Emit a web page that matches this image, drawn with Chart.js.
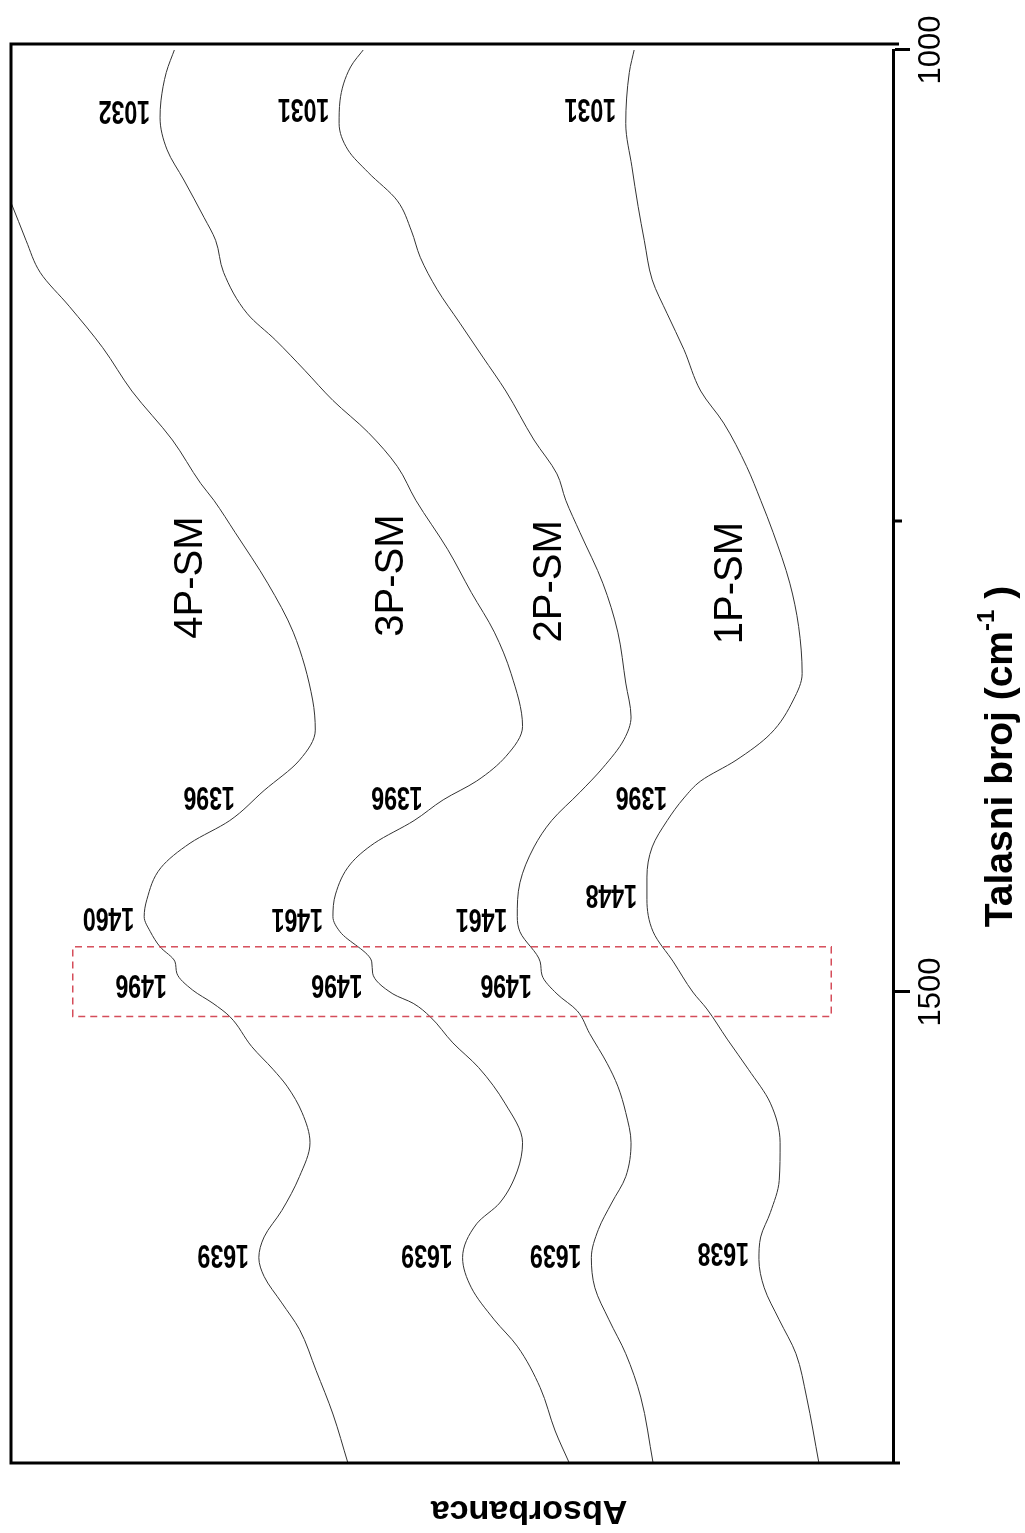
<!DOCTYPE html>
<html>
<head>
<meta charset="utf-8">
<title>FTIR spektri</title>
<script src="https://cdn.jsdelivr.net/npm/chart.js@4.4.1/dist/chart.umd.min.js"></script>
<style>
html, body { margin: 0; padding: 0; background: #fff; overflow: hidden; }
/* the spectrum is drawn upright and then turned a quarter turn, as in the figure */
#wrap { position: absolute; left: 0; top: 0; width: 1533px; height: 1025px;
        transform-origin: 0 0; transform: translateY(1533px) rotate(-90deg); }
</style>
</head>
<body>
<div id="wrap"><canvas id="spectra" width="1533" height="1025"></canvas></div>
<script>
// wavenumber (cm-1) and absorbance (a.u.)
const wn4P = [999, 1036, 1069, 1081, 1101, 1118, 1136, 1158, 1181, 1207, 1230, 1239, 1256, 1283, 1309, 1345, 1361, 1377, 1393, 1409, 1421, 1434, 1451, 1460, 1468, 1476, 1484, 1490, 1499, 1506, 1513, 1529, 1541, 1550, 1564, 1580, 1598, 1616, 1630, 1641, 1651, 1665, 1679, 1701, 1724, 1750];
const abs4P = [1.024, 1.041, 1.012, 1.000, 0.983, 0.967, 0.934, 0.896, 0.863, 0.817, 0.785, 0.770, 0.746, 0.709, 0.680, 0.658, 0.655, 0.673, 0.713, 0.752, 0.797, 0.830, 0.846, 0.849, 0.842, 0.831, 0.814, 0.812, 0.794, 0.771, 0.752, 0.727, 0.703, 0.687, 0.670, 0.661, 0.673, 0.693, 0.713, 0.719, 0.713, 0.693, 0.673, 0.654, 0.635, 0.618];

const wn3P = [999, 1012, 1027, 1036, 1053, 1069, 1089, 1101, 1118, 1140, 1154, 1170, 1186, 1203, 1221, 1239, 1265, 1288, 1309, 1331, 1359, 1375, 1388, 1398, 1409, 1421, 1432, 1448, 1460, 1468, 1484, 1490, 1501, 1506, 1513, 1527, 1540, 1559, 1580, 1595, 1612, 1623, 1641, 1657, 1674, 1688, 1710, 1733, 1750];
const abs3P = [0.814, 0.824, 0.830, 0.831, 0.823, 0.804, 0.781, 0.768, 0.759, 0.732, 0.700, 0.667, 0.635, 0.595, 0.562, 0.541, 0.505, 0.478, 0.452, 0.433, 0.420, 0.439, 0.472, 0.510, 0.543, 0.588, 0.615, 0.632, 0.635, 0.627, 0.591, 0.590, 0.567, 0.544, 0.525, 0.499, 0.470, 0.440, 0.420, 0.426, 0.446, 0.472, 0.488, 0.478, 0.452, 0.426, 0.400, 0.383, 0.367];

const wn2P = [999, 1009, 1027, 1039, 1053, 1065, 1080, 1096, 1110, 1127, 1145, 1163, 1181, 1207, 1225, 1239, 1256, 1283, 1309, 1336, 1354, 1366, 1381, 1394, 1409, 1423, 1442, 1460, 1468, 1484, 1491, 1501, 1510, 1522, 1538, 1550, 1564, 1580, 1598, 1612, 1626, 1641, 1657, 1674, 1692, 1715, 1750];
const abs2P = [0.599, 0.615, 0.627, 0.628, 0.618, 0.595, 0.562, 0.546, 0.536, 0.517, 0.491, 0.465, 0.439, 0.407, 0.381, 0.371, 0.355, 0.329, 0.312, 0.303, 0.297, 0.305, 0.329, 0.355, 0.387, 0.407, 0.423, 0.426, 0.423, 0.400, 0.398, 0.381, 0.358, 0.344, 0.324, 0.312, 0.303, 0.297, 0.303, 0.319, 0.334, 0.342, 0.338, 0.322, 0.303, 0.286, 0.272];

const wn1P = [999, 1012, 1039, 1062, 1083, 1101, 1122, 1140, 1159, 1181, 1198, 1221, 1239, 1256, 1283, 1306, 1331, 1345, 1363, 1377, 1388, 1397, 1409, 1423, 1439, 1451, 1468, 1484, 1500, 1509, 1525, 1541, 1559, 1580, 1600, 1617, 1630, 1642, 1657, 1674, 1692, 1715, 1750];
const abs1P = [0.293, 0.299, 0.303, 0.296, 0.289, 0.282, 0.273, 0.256, 0.237, 0.218, 0.192, 0.166, 0.150, 0.136, 0.117, 0.107, 0.103, 0.113, 0.139, 0.178, 0.218, 0.237, 0.256, 0.273, 0.279, 0.279, 0.272, 0.249, 0.227, 0.211, 0.188, 0.164, 0.139, 0.128, 0.129, 0.139, 0.150, 0.152, 0.146, 0.129, 0.110, 0.098, 0.084];

const sampleNames = ['4P-SM', '3P-SM', '2P-SM', '1P-SM'];
const sampleLabelWn = [1280, 1279, 1282, 1283];
const sampleLabelAbs = [0.796, 0.568, 0.389, 0.184];

// marked bands for each sample
const peaks4P = [1396, 1460, 1496, 1639];
const peaks3P = [1032, 1396, 1461, 1496, 1639];
const peaks2P = [1031, 1461, 1496, 1639];
const peaks1P = [1031, 1396, 1448, 1638];

const xTicks = [1000, 1250, 1500];
const xTickLabels = ['1000', '', '1500'];
const boxWn = [1476, 1513];
const boxAbs = [0.07, 0.93];

const FONT = '"Liberation Sans", Arial, sans-serif';

const curves = [
    { name: sampleNames[0], wn: wn4P, abs: abs4P, peaks: peaks4P },
    { name: sampleNames[1], wn: wn3P, abs: abs3P, peaks: peaks3P },
    { name: sampleNames[2], wn: wn2P, abs: abs2P, peaks: peaks2P },
    { name: sampleNames[3], wn: wn1P, abs: abs1P, peaks: peaks1P }
];

function absAt(c, w) {
    for (let i = 1; i < c.wn.length; i++) {
        if (w <= c.wn[i]) {
            const t = (w - c.wn[i - 1]) / (c.wn[i] - c.wn[i - 1]);
            return c.abs[i - 1] + t * (c.abs[i] - c.abs[i - 1]);
        }
    }
    return c.abs[c.abs.length - 1];
}

// frame, minor tick, band labels, sample names, dashed box, axis titles
const decor = {
    id: 'decor',
    afterDraw(chart) {
        const { ctx, chartArea: a, scales: { x, y } } = chart;
        ctx.save();

        ctx.strokeStyle = '#000';
        ctx.lineWidth = 3;
        ctx.beginPath();
        ctx.moveTo(a.left, a.bottom + 7);
        ctx.lineTo(a.left, a.top);
        ctx.lineTo(a.right + 6, a.top);
        ctx.lineTo(a.right + 6, a.bottom + 6);
        ctx.stroke();

        // short tick at 1250
        const u1250 = x.getPixelForValue(xTicks[1]);
        ctx.beginPath();
        ctx.moveTo(u1250, a.bottom);
        ctx.lineTo(u1250, a.bottom + 9);
        ctx.stroke();

        // dashed box round the 1496 band
        ctx.strokeStyle = 'rgba(208, 58, 72, 0.9)';
        ctx.lineWidth = 1.5;
        ctx.setLineDash([7, 5]);
        const bu0 = x.getPixelForValue(boxWn[0]), bu1 = x.getPixelForValue(boxWn[1]);
        const bv0 = y.getPixelForValue(boxAbs[1]), bv1 = y.getPixelForValue(boxAbs[0]);
        ctx.strokeRect(Math.min(bu0, bu1), bv0, Math.abs(bu1 - bu0), bv1 - bv0);
        ctx.setLineDash([]);

        // band labels, standing above each curve
        ctx.fillStyle = '#000';
        ctx.textAlign = 'center';
        ctx.textBaseline = 'middle';
        ctx.font = 'bold 33px ' + FONT;
        const squeeze = 0.7;
        curves.forEach(c => {
            c.peaks.forEach(p => {
                let top = -Infinity;
                for (let w = p - 6; w <= p + 6; w++) top = Math.max(top, absAt(c, w));
                const len = ctx.measureText(String(p)).width * squeeze;
                const vc = y.getPixelForValue(top) - 10 - len / 2;
                ctx.save();
                ctx.translate(x.getPixelForValue(p), vc);
                ctx.rotate(-Math.PI / 2);
                ctx.scale(squeeze, 1);
                ctx.fillText(String(p), 0, 0);
                ctx.restore();
            });
        });

        // sample names
        ctx.font = '40px ' + FONT;
        sampleNames.forEach((n, i) => {
            ctx.fillText(n, x.getPixelForValue(sampleLabelWn[i]), y.getPixelForValue(sampleLabelAbs[i]));
        });

        // y title
        ctx.font = 'bold 34px ' + FONT;
        ctx.save();
        ctx.translate(23, 529);
        ctx.rotate(-Math.PI / 2);
        ctx.fillText('Absorbanca', 0, 0);
        ctx.restore();

        // x title with superscript
        const main = 'Talasni broj (cm', sup = '-1', tail = ' )';
        ctx.font = 'bold 39px ' + FONT;
        const wMain = ctx.measureText(main).width;
        const wTail = ctx.measureText(tail).width;
        ctx.font = 'bold 24px ' + FONT;
        const wSup = ctx.measureText(sup).width;
        let u = (a.left + a.right) / 2 - (wMain + wSup + wTail) / 2;
        const vt = 1001;
        ctx.textAlign = 'left';
        ctx.font = 'bold 39px ' + FONT;
        ctx.fillText(main, u, vt);
        u += wMain;
        ctx.font = 'bold 24px ' + FONT;
        ctx.fillText(sup, u, vt - 14);
        u += wSup;
        ctx.font = 'bold 39px ' + FONT;
        ctx.fillText(tail, u, vt);

        ctx.restore();
    }
};

new Chart(document.getElementById('spectra').getContext('2d'), {
    type: 'line',
    data: {
        datasets: curves.map(c => ({
            label: c.name,
            data: c.wn.map((w, i) => ({ x: w, y: c.abs[i] })),
            borderColor: '#333',
            borderWidth: 1,
            pointRadius: 0,
            cubicInterpolationMode: 'monotone',
            fill: false
        }))
    },
    options: {
        responsive: false,
        animation: false,
        layout: { padding: { top: 11, right: 50, left: 0, bottom: 0 } },
        plugins: {
            legend: { display: false },
            tooltip: { enabled: false }
        },
        scales: {
            x: {
                type: 'linear',
                reverse: true,
                min: 1000,
                max: 1750,
                afterBuildTicks: s => { s.ticks = xTicks.map(v => ({ value: v })); },
                afterFit: s => { s.height = 132; },
                grid: {
                    drawOnChartArea: false,
                    tickLength: 17,
                    tickWidth: 3,
                    tickColor: c => (c.tick && c.tick.value === xTicks[1]) ? 'rgba(0,0,0,0)' : '#000'
                },
                border: { color: '#000', width: 3 },
                ticks: {
                    color: '#000',
                    font: { family: FONT, size: 31 },
                    padding: 3,
                    maxRotation: 0,
                    autoSkip: false,
                    callback: v => xTickLabels[xTicks.indexOf(v)]
                }
            },
            y: {
                min: 0,
                max: 1,
                afterFit: s => { s.width = 70; },
                ticks: { display: false },
                grid: { display: false },
                border: { display: false }
            }
        }
    },
    plugins: [decor]
});
</script>
</body>
</html>
